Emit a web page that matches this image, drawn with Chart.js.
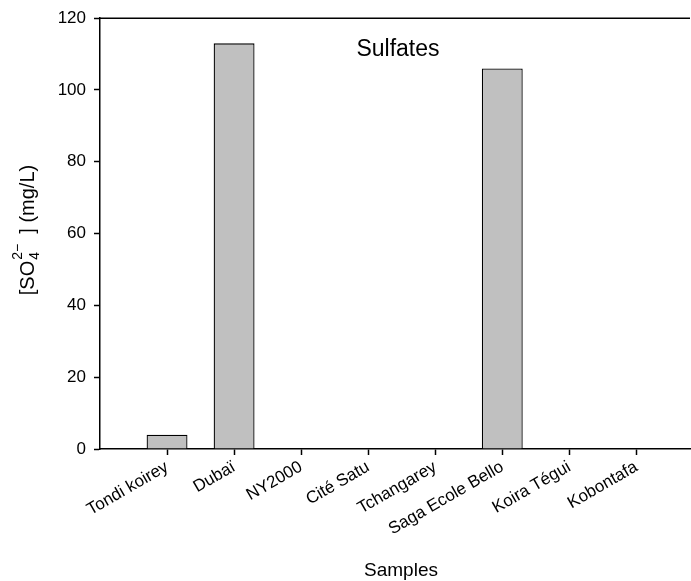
<!DOCTYPE html>
<html lang="en">
<head>
    <meta charset="UTF-8">
    <title>Sulfates</title>
    <script src="https://cdn.jsdelivr.net/npm/chart.js"></script>
    <style>
        body { margin: 0; background: #fff; }
        canvas { display: block; }
    </style>
</head>
<body>
    <canvas id="myChart" width="691" height="581"></canvas>
    <script>
        // data
        const samples = ['Tondi koirey', 'Dubaï', 'NY2000', 'Cité Satu', 'Tchangarey', 'Saga Ecole Bello', 'Koira Tégui', 'Kobontafa'];
        const sulfates = [4, 113, 0, 0, 0, 106, 0, 0];
        const yTicks = [0, 20, 40, 60, 80, 100, 120];

        const FONT = 'Arial, "Liberation Sans", sans-serif';

        // top frame line + chart title + axis titles (y one has sub/superscript)
        const decorations = {
            id: 'decorations',
            afterDraw(chart) {
                const ctx = chart.ctx;
                const area = chart.chartArea;
                ctx.save();
                ctx.strokeStyle = '#000';
                ctx.lineWidth = 1.5;
                ctx.beginPath();
                ctx.moveTo(area.left, area.top);
                ctx.lineTo(area.right, area.top);
                ctx.stroke();

                ctx.fillStyle = '#000';
                ctx.font = '23px ' + FONT;
                ctx.textAlign = 'center';
                ctx.textBaseline = 'alphabetic';
                ctx.fillText('Sulfates', 398, 56);

                ctx.font = '19px ' + FONT;
                ctx.fillText('Samples', 401, 576);

                // y title: [SO4^2-] (mg/L)
                const big = '20px ' + FONT;
                const small = '14px ' + FONT;
                ctx.font = big;
                const w1 = ctx.measureText('[SO').width;
                const w3 = ctx.measureText('  ] (mg/L)').width;
                ctx.font = small;
                const wSub = ctx.measureText('4').width;
                const wSup = ctx.measureText('2\u2212').width;
                const wMid = Math.max(wSub, wSup);
                const total = w1 + wMid + w3;

                ctx.translate(34, 230);
                ctx.rotate(-Math.PI / 2);
                ctx.textAlign = 'left';
                let x = -total / 2;
                ctx.font = big;
                ctx.fillText('[SO', x, 0);
                x += w1;
                ctx.font = small;
                ctx.fillText('4', x + 1, 5);
                ctx.fillText('2\u2212', x + 1, -12);
                x += wMid;
                ctx.font = big;
                ctx.fillText('  ] (mg/L)', x, 0);
                ctx.restore();
            }
        };

        const ctx = document.getElementById('myChart').getContext('2d');
        const chart = new Chart(ctx, {
            type: 'bar',
            data: {
                datasets: [{
                    label: 'Sulfates',
                    data: sulfates.map((v, i) => ({ x: i + 1, y: v })),
                    backgroundColor: '#c0c0c0',
                    borderColor: '#000',
                    borderWidth: 1.3,
                    barPercentage: 0.61,
                    categoryPercentage: 1
                }]
            },
            options: {
                responsive: false,
                animation: false,
                devicePixelRatio: 1,
                layout: { padding: { top: 15, right: 1, left: 0, bottom: 0 } },
                plugins: {
                    legend: { display: false },
                    tooltip: { enabled: false }
                },
                scales: {
                    x: {
                        type: 'linear',
                        offset: false,
                        min: 0,
                        max: 8.8,
                        afterBuildTicks: scale => {
                            scale.ticks = samples.map((s, i) => ({ value: i + 1 }));
                        },
                        afterFit: scale => { scale.height = 132; },
                        ticks: {
                            autoSkip: false,
                            minRotation: 30,
                            maxRotation: 30,
                            padding: 2,
                            color: '#000',
                            font: { family: FONT, size: 17 },
                            callback: v => samples[v - 1]
                        },
                        grid: {
                            offset: false,
                            drawOnChartArea: false,
                            drawTicks: true,
                            tickLength: 6,
                            tickWidth: 1.5,
                            color: '#000'
                        },
                        border: { color: '#000', width: 1.5 }
                    },
                    y: {
                        min: 0,
                        max: 120,
                        afterBuildTicks: scale => {
                            scale.ticks = yTicks.map(v => ({ value: v }));
                        },
                        afterFit: scale => { scale.width = 100; },
                        ticks: {
                            color: '#000',
                            padding: 8,
                            font: { family: FONT, size: 17 }
                        },
                        grid: {
                            drawOnChartArea: false,
                            drawTicks: true,
                            tickLength: 6,
                            tickWidth: 1.5,
                            color: '#000'
                        },
                        border: { color: '#000', width: 1.5 }
                    }
                }
            },
            plugins: [decorations]
        });
    </script>
</body>
</html>
